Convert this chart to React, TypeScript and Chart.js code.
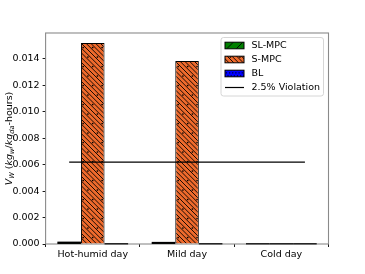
import React, { useEffect, useRef } from 'react';
import { Chart, registerables } from 'chart.js';
Chart.register(...registerables);

const categories = ['Hot-humid day', 'Mild day', 'Cold day'];
const slMpc = [0.00012, 0.0001, 0];
const sMpc = [0.0152, 0.01385, 0];
const bl = [0, 0, 0];
const violationValue = 0.0062;
const violationSpan = [-0.25, 2.25];
const yTicks = [0, 0.002, 0.004, 0.006, 0.008, 0.01, 0.012, 0.014];
const legendLabels = ['SL-MPC', 'S-MPC', 'BL', '2.5% Violation'];

const FONT = 'DejaVu Sans';
const FS = 9.5;

function makePattern(fill: string, kind: 'fwd' | 'backdots' | 'dots') {
  const S = 19;
  const c = document.createElement('canvas');
  c.width = S;
  c.height = S;
  const g = c.getContext('2d')!;
  g.fillStyle = fill;
  g.fillRect(0, 0, S, S);
  g.strokeStyle = '#000';
  g.fillStyle = '#000';
  g.lineWidth = 0.9;
  if (kind === 'fwd') {
    const step = S / 2;
    g.beginPath();
    for (let i = -4; i <= 6; i++) {
      const off = i * step;
      g.moveTo(off, S);
      g.lineTo(off + S, 0);
    }
    g.stroke();
  } else if (kind === 'backdots') {
    const step = S / 4;
    g.beginPath();
    for (let i = -6; i <= 8; i++) {
      const off = i * step;
      g.moveTo(off, 0);
      g.lineTo(off + S, S);
    }
    g.stroke();
    const d = S / 2;
    for (let r = 0; r <= 2; r++) {
      for (let k = -1; k <= 3; k++) {
        const x = k * d + (r % 2 ? d / 2 : 0) + 2.4;
        const y = r * d;
        g.beginPath();
        g.arc(x, y, 0.85, 0, Math.PI * 2);
        g.fill();
      }
    }
  } else {
    const d = S / 6;
    for (let r = 0; r <= 6; r++) {
      for (let k = -1; k <= 7; k++) {
        const x = k * d + (r % 2 ? d / 2 : 0);
        const y = r * d;
        g.beginPath();
        g.arc(x, y, 0.7, 0, Math.PI * 2);
        g.fill();
      }
    }
  }
  return g.createPattern(c, 'repeat')!;
}

export default function App() {
  const ref = useRef<HTMLCanvasElement>(null);
  useEffect(() => {
    const canvas = ref.current!;
    const greenPat = makePattern('#008000', 'fwd');
    const orangePat = makePattern('#ee6a2c', 'backdots');
    const bluePat = makePattern('#0000ff', 'dots');
    const patterns = [greenPat, orangePat, bluePat];

    const boxPlugin = {
      id: 'boxAndExtras',
      beforeDatasetsDraw(chart: any) {
        const ctx = chart.ctx;
        const a = chart.chartArea;
        ctx.save();
        ctx.strokeStyle = '#8a8a8a';
        ctx.lineWidth = 1.1;
        ctx.strokeRect(a.left, a.top, a.right - a.left, a.bottom - a.top);
        ctx.restore();
      },
      afterDatasetsDraw(chart: any) {
        const ctx = chart.ctx;
        ctx.save();
        // outline very short bars (edge lines dominate at this size)
        chart.data.datasets.forEach((ds: any, di: number) => {
          const meta = chart.getDatasetMeta(di);
          meta.data.forEach((el: any) => {
            const p = el.getProps(['x', 'y', 'width', 'base'], true);
            const h = Math.max(p.base - p.y, 0);
            if (h < 3) {
              ctx.fillStyle = '#000';
              ctx.fillRect(p.x - p.width / 2, p.base - h - 0.8, p.width, h + 1.2);
            }
          });
        });
        // violation line through the scales
        const xs = chart.scales.x;
        const ys = chart.scales.y;
        const p0 = xs.getPixelForValue(0);
        const step = xs.getPixelForValue(1) - p0;
        const yv = ys.getPixelForValue(violationValue);
        ctx.strokeStyle = '#000';
        ctx.lineWidth = 1.3;
        ctx.beginPath();
        ctx.moveTo(p0 + violationSpan[0] * step, yv);
        ctx.lineTo(p0 + violationSpan[1] * step, yv);
        ctx.stroke();
        ctx.restore();
      },
      afterDraw(chart: any) {
        const ctx = chart.ctx;
        const a = chart.chartArea;
        ctx.save();
        // y-axis title with subscripts
        const cx = 8;
        const cy = (a.top + a.bottom) / 2;
        const sub = FS * 0.7;
        const pieces: [string, string, number, number][] = [
          ['V', 'italic', FS, 0],
          ['W', 'italic', sub, 2.2],
          [' (', 'normal', FS, 0],
          ['kg', 'italic', FS, 0],
          ['w', 'italic', sub, 2.2],
          ['/', 'normal', FS, 0],
          ['kg', 'italic', FS, 0],
          ['da', 'italic', sub, 2.2],
          ['-hours)', 'normal', FS, 0],
        ];
        let total = 0;
        const widths = pieces.map(([t, st, sz]) => {
          ctx.font = `${st} ${sz}px "${FONT}"`;
          const w = ctx.measureText(t).width;
          total += w;
          return w;
        });
        ctx.translate(cx, cy);
        ctx.rotate(-Math.PI / 2);
        ctx.fillStyle = '#000';
        ctx.textBaseline = 'alphabetic';
        ctx.textAlign = 'left';
        let x = -total / 2;
        pieces.forEach(([t, st, sz, dy], i) => {
          ctx.font = `${st} ${sz}px "${FONT}"`;
          ctx.fillText(t, x, 3.5 + dy);
          x += widths[i];
        });
        ctx.restore();

        // legend
        ctx.save();
        const lx = 221, ly = 37.5, lw = 102.5, lh = 58.5, r = 2.5;
        ctx.beginPath();
        ctx.moveTo(lx + r, ly);
        ctx.arcTo(lx + lw, ly, lx + lw, ly + lh, r);
        ctx.arcTo(lx + lw, ly + lh, lx, ly + lh, r);
        ctx.arcTo(lx, ly + lh, lx, ly, r);
        ctx.arcTo(lx, ly, lx + lw, ly, r);
        ctx.closePath();
        ctx.fillStyle = 'rgba(255,255,255,0.8)';
        ctx.fill();
        ctx.strokeStyle = '#cccccc';
        ctx.lineWidth = 0.8;
        ctx.stroke();
        ctx.font = `${FS}px "${FONT}"`;
        ctx.textBaseline = 'middle';
        ctx.textAlign = 'left';
        legendLabels.forEach((lab, i) => {
          const yc = 45.5 + i * 14;
          if (i < 3) {
            ctx.fillStyle = patterns[i];
            ctx.fillRect(225, yc - 3.3, 19, 6.6);
            ctx.strokeStyle = '#000';
            ctx.lineWidth = 1;
            ctx.strokeRect(225, yc - 3.3, 19, 6.6);
          } else {
            ctx.strokeStyle = '#000';
            ctx.lineWidth = 1.2;
            ctx.beginPath();
            ctx.moveTo(225, yc);
            ctx.lineTo(244, yc);
            ctx.stroke();
          }
          ctx.fillStyle = '#000';
          ctx.fillText(lab, 251.5, yc + 0.5);
        });
        ctx.restore();
      },
    };

    const chart = new Chart(canvas, {
      type: 'bar',
      data: {
        labels: categories,
        datasets: [
          {
            label: legendLabels[0],
            data: slMpc,
            backgroundColor: greenPat,
            borderColor: '#000',
            borderWidth: 1,
            borderSkipped: 'bottom',
          },
          {
            label: legendLabels[1],
            data: sMpc,
            backgroundColor: orangePat,
            borderColor: '#000',
            borderWidth: 1,
            borderSkipped: 'bottom',
          },
          {
            label: legendLabels[2],
            data: bl,
            backgroundColor: bluePat,
            borderColor: '#000',
            borderWidth: 1,
            borderSkipped: 'bottom',
          },
        ],
      },
      options: {
        responsive: false,
        animation: false,
        devicePixelRatio: 1,
        layout: { padding: { top: 33, right: 36.5, left: 0, bottom: 0 } },
        categoryPercentage: 0.75,
        barPercentage: 1.0,
        plugins: { legend: { display: false }, tooltip: { enabled: false } },
        scales: {
          x: {
            type: 'category',
            offset: true,
            grid: { display: true, drawOnChartArea: false, tickLength: 3, color: '#000', lineWidth: 0.9 },
            border: { display: false },
            ticks: { color: '#000', font: { family: FONT, size: FS }, padding: 2, maxRotation: 0 },
            afterFit: (s: any) => { s.height = 30; },
          },
          y: {
            type: 'linear',
            min: 0,
            max: Math.max(...sMpc) * 1.05,
            grid: { display: true, drawOnChartArea: false, tickLength: 3, color: '#000', lineWidth: 0.9 },
            border: { display: false },
            ticks: {
              color: '#000',
              font: { family: FONT, size: FS },
              padding: 3,
              callback: (v: any) => Number(v).toFixed(3),
            },
            afterBuildTicks: (s: any) => { s.ticks = yTicks.map((v) => ({ value: v })); },
            afterFit: (s: any) => { s.width = 45.6; },
          },
        },
      } as any,
      plugins: [boxPlugin],
    } as any);
    return () => chart.destroy();
  }, []);
  return (
    <div style={{ position: 'fixed', left: 0, top: 0, width: 365, height: 274, background: '#fff' }}>
      <canvas ref={ref} width={365} height={274} style={{ width: 365, height: 274, display: 'block' }} />
    </div>
  );
}
